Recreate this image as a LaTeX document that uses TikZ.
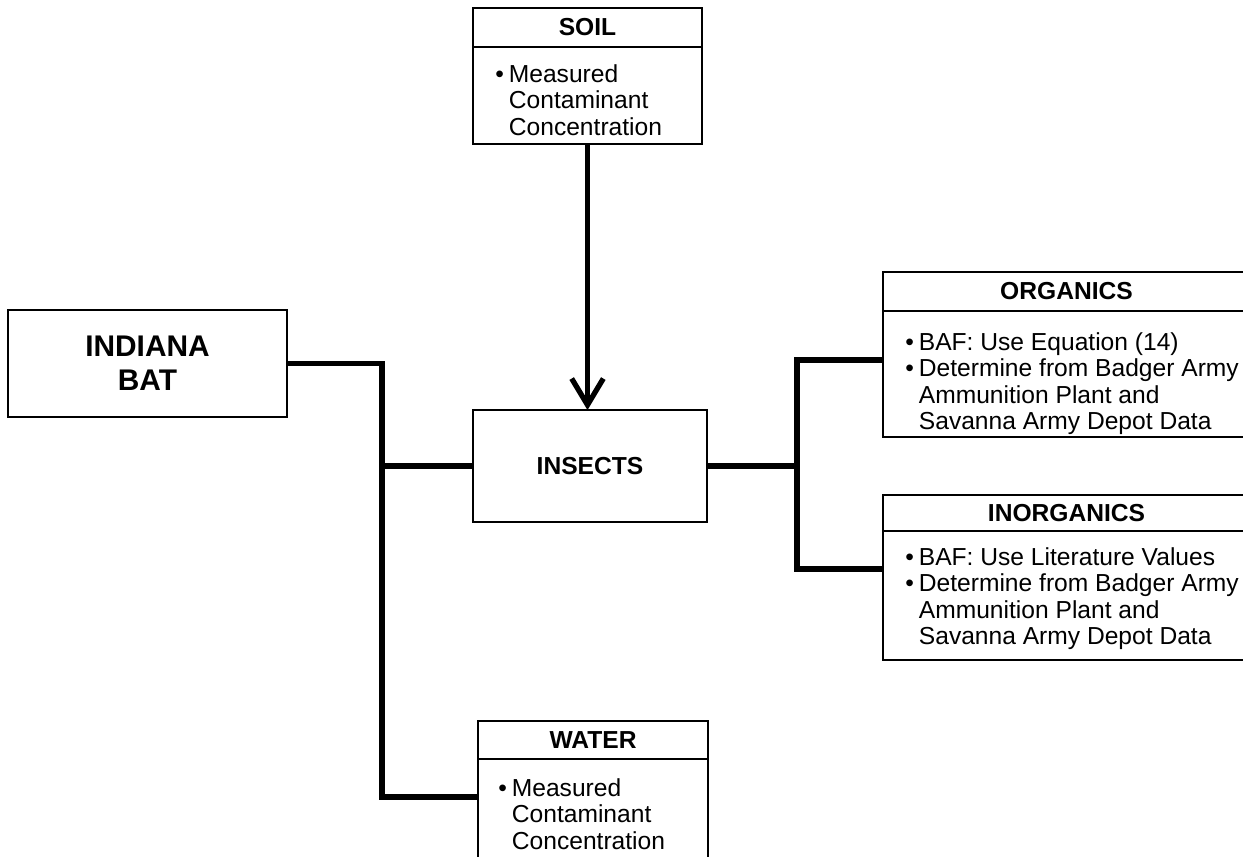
\documentclass[tikz,border=0pt]{standalone}
\usepackage{fontspec}
\setmainfont{Liberation Sans}
\usetikzlibrary{arrows.meta,positioning}

\tikzset{
  box/.style={draw,line width=1.1pt,inner sep=0pt,outer sep=0pt},
  headbox/.style={box,font=\fontsize{14}{16}\selectfont\bfseries},
  bodytext/.style={anchor=north west,inner sep=0pt,align=left,
                   font=\fontsize{14}{15.1}\selectfont},
  link/.style={line width=3pt},
}
\newcommand{\blt}{\textbullet\hspace{0.2em}}
\newcommand{\bltpad}{\hphantom{\textbullet\hspace{0.2em}}}

\begin{document}
\begin{tikzpicture}[x=0.02cm,y=-0.02cm]
  \useasboundingbox (0,0) rectangle (1243,856);
  % main boxes
  \node[box,minimum width=5.58cm,minimum height=2.14cm,align=center,
        font=\fontsize{17}{19.3}\selectfont\bfseries] (bat) at (147.5,363.5) {INDIANA\\BAT};
  \node[box,minimum width=4.68cm,minimum height=2.24cm,
        font=\fontsize{14}{16}\selectfont\bfseries] (insects) at (590,466) {INSECTS};
  % soil
  \node[headbox,minimum width=4.58cm,minimum height=0.78cm] (soilh) at (587.5,27.5) {SOIL};
  \node[box,minimum width=4.58cm,minimum height=1.94cm,below=0pt of soilh] (soilb) {};
  \node[bodytext] (soilt) at ([shift={(22,17)}]soilb.north west)
    {\blt Measured\\\bltpad Contaminant\\\bltpad Concentration};
  % organics
  \node[headbox,minimum width=7.34cm,minimum height=0.78cm] (orgh) at (1066.5,291.5) {ORGANICS};
  \node[box,minimum width=7.34cm,minimum height=2.52cm,below=0pt of orgh] (orgb) {};
  \node[bodytext] (orgt) at ([shift={(22,21)}]orgb.north west)
    {\blt BAF: Use Equation (14)\\\blt Determine from Badger Army\\
     \bltpad Ammunition Plant and\\\bltpad Savanna Army Depot Data};
  % inorganics
  \node[headbox,minimum width=7.34cm,minimum height=0.72cm] (inorgh) at (1066.5,513) {INORGANICS};
  \node[box,minimum width=7.34cm,minimum height=2.58cm,below=0pt of inorgh] (inorgb) {};
  \node[bodytext] (inorgt) at ([shift={(22,16)}]inorgb.north west)
    {\blt BAF: Use Literature Values\\\blt Determine from Badger Army\\
     \bltpad Ammunition Plant and\\\bltpad Savanna Army Depot Data};
  % water
  \node[headbox,minimum width=4.6cm,minimum height=0.76cm] (waterh) at (593,740) {WATER};
  \node[box,minimum width=4.6cm,minimum height=2.1cm,below=0pt of waterh] (waterb) {};
  \node[bodytext] (watert) at ([shift={(20,19)}]waterb.north west)
    {\blt Measured\\\bltpad Contaminant\\\bltpad Concentration};

  % connectors
  \coordinate (lbus) at (382,797);
  \coordinate (rtop) at (797,360);
  \coordinate (rbot) at (797,569);
  \draw[link] (bat.east) -| (lbus) -- (lbus -| waterb.west);
  \draw[link] (insects.west) -- (insects.west -| lbus);
  \draw[link] (orgb.west |- rtop) -- (rtop) -- (rbot) -- (rbot -| inorgb.west);
  \draw[link] (insects.east) -- (insects.east -| rtop);
  \draw[link,-{Straight Barb[length=15pt,width=18pt]}] (soilb.south) -- (soilb.south |- insects.north);
\end{tikzpicture}
\end{document}
